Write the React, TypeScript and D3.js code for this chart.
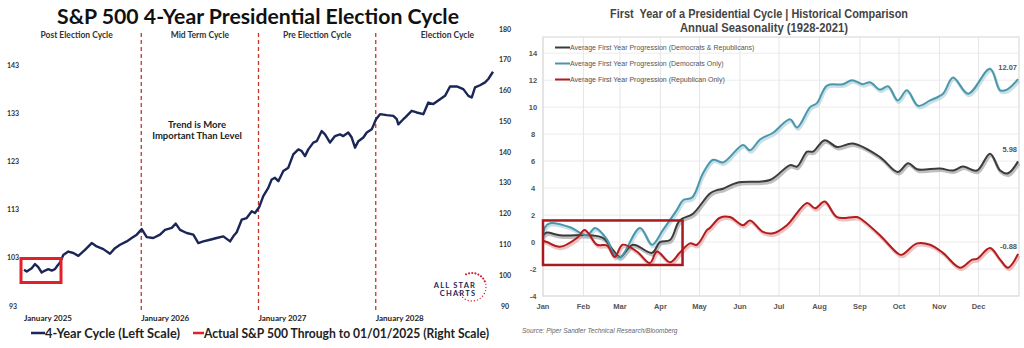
import React from "react";
import * as d3 from "d3";

// ---------- LEFT CHART DATA ----------
const cycleData: [number, number][] = [
  [0, 100.5], [0.28, 100.15], [0.79, 100.85], [1.13, 101.7], [1.46, 101.05], [1.81, 99.95],
  [2.15, 100.35], [2.49, 100.65], [2.84, 100.35], [3.17, 100.65], [3.41, 101.35], [3.68, 102.0],
  [4.02, 103.6], [4.53, 104.3], [5.05, 104.0], [5.56, 103.4], [6.24, 104.65], [6.93, 106.05],
  [7.44, 105.35], [8.12, 104.8], [8.8, 103.85], [9.31, 105.0], [9.83, 105.7], [10.51, 106.4],
  [11.02, 107.1], [11.54, 107.8], [12.05, 108.95], [12.56, 107.3], [13.23, 107.1], [13.92, 107.8],
  [14.43, 108.8], [15.12, 109.2], [15.53, 110.1], [15.97, 108.8], [16.65, 108.15], [17.33, 107.8],
  [17.84, 106.05], [18.35, 106.4], [19.04, 106.75], [19.72, 107.1], [20.4, 107.45], [21.09, 106.4],
  [21.42, 107.45], [21.77, 108.3], [22.28, 110.9], [22.79, 111.25], [23.31, 112.65], [23.64, 112.3],
  [24.08, 113.55], [24.49, 115.8], [25.0, 117.5], [25.35, 119.25], [25.69, 119.6], [26.03, 118.9],
  [26.54, 121.0], [27.05, 121.7], [27.56, 124.45], [28.08, 125.5], [28.42, 125.15], [28.76, 124.1],
  [29.1, 125.5], [29.61, 126.9], [29.96, 127.2], [30.47, 129.3], [30.81, 128.6], [31.32, 126.9],
  [31.83, 128.25], [32.34, 128.6], [32.68, 128.25], [33.19, 129.0], [33.54, 127.95], [33.88, 125.85],
  [34.22, 127.2], [34.73, 127.95], [35.08, 129.0], [35.59, 129.65], [36.03, 131.75], [36.44, 132.8],
  [37.12, 132.6], [37.8, 132.45], [38.15, 131.75], [38.31, 130.7], [38.82, 131.75], [39.0, 132.1],
  [39.68, 133.5], [40.19, 133.15], [40.87, 132.8], [41.38, 135.2], [41.89, 134.9], [42.58, 135.9],
  [43.09, 136.6], [43.6, 138.55], [44.29, 138.55], [44.96, 138.0], [45.48, 136.6], [45.82, 136.25],
  [46.16, 138.35], [46.67, 138.8], [47.19, 139.4], [47.52, 140.1], [48.0, 141.6],
];
const phaseLabels = ["Post Election Cycle", "Mid Term Cycle", "Pre Election Cycle", "Election Cycle"];
const phaseDividers = [12, 24, 36];
const yearLabels = ["January 2025", "January 2026", "January 2027", "January 2028"];
const yearLabelMonths = [0, 12, 24, 36];
const leftTicks = [93, 103, 113, 123, 133, 143];
const rightTicks = [90, 100, 110, 120, 130, 140, 150, 160, 170, 180];

// ---------- RIGHT CHART DATA ----------
const bothParties: [number, number][] = [
  [0, 0.5], [3, 0.7], [13, 0.5], [36, 0.5], [46, 0.3], [53.7, -0.6], [59, -1.1], [69, -0.2],
  [83.6, -0.8], [89.7, 0], [97.4, 0.15], [104.8, 1.6], [115, 2.1], [128, 3.6], [133.4, 3.85],
  [138, 3.95], [148.8, 4.4], [174, 4.6], [189.4, 5.7], [194.8, 5.6], [202.5, 6.7], [207, 6.7],
  [216, 7.55], [225.5, 7.05], [237.7, 7.3], [258.4, 6.3], [272, 5.2], [280, 5.85], [286.8, 5.4],
  [304.4, 5.45], [314.4, 5.3], [322, 5.6], [332.8, 5.3], [342.8, 6.55], [350.5, 5.3], [356.6, 5.1],
  [364.3, 5.98],
];
const democrats: [number, number][] = [
  [0, 0.2], [1.5, 1.1], [5.4, 1.4], [20.7, 1.1], [33.7, 0.5], [39.9, 1.05], [49, 0.2], [53.7, -0.8],
  [59, -1.15], [74.4, 1.05], [83.6, -0.2], [92, 0.9], [102.8, 2.4], [107.4, 3.1], [114.3, 3.3],
  [122.7, 5.1], [130.4, 6.1], [138, 5.9], [153.4, 7.2], [158.7, 6.8], [166.4, 7.6], [176.4, 8.1],
  [189.4, 9.1], [194.8, 8.5], [204.8, 10], [210, 10.3], [217.8, 11.6], [230, 11.7], [237, 12.0],
  [245, 11.7], [250.8, 11.85], [258.4, 11.3], [264.6, 11.55], [272, 10.5], [279, 11.25],
  [287.6, 10.1], [296.8, 10.5], [306.7, 11], [314.4, 12.2], [326, 11], [342.8, 12.85],
  [350.5, 11.25], [355.8, 11.3], [364.3, 12.07],
];
const republicans: [number, number][] = [
  [0, 0.1], [3, 0], [13, -0.35], [26, 0.3], [32, 0.9], [41.4, -0.2], [49, -0.25], [55, -1.1],
  [61, -0.2], [72, -0.7], [82, -1.55], [87.4, -0.7], [97.4, -1.5], [104.8, -0.8], [112.7, -0.1],
  [118, -0.2], [125.8, 0.9], [128, 1.05], [135.7, 1.8], [143.4, 1.85], [153.4, 1.25], [158.7, 1.6],
  [168.7, 0.75], [176.4, 0.65], [187, 1.25], [202.5, 2.9], [208.6, 2.5], [216, 3.0], [225.5, 1.85],
  [240.8, 1.85], [245.4, 1.6], [258.4, 0.5], [271.5, -0.8], [275, -0.95], [286.8, -0.1],
  [296.8, -0.2], [306.7, -0.8], [319.8, -1.9], [329, -1.3], [332.8, -1.25], [342.8, -0.45],
  [350.5, -1.3], [356.6, -1.9], [364.3, -0.88],
];
const monthNames = ["Jan", "Feb", "Mar", "Apr", "May", "Jun", "Jul", "Aug", "Sep", "Oct", "Nov", "Dec"];
const monthStartDays = [0, 31, 59, 90, 120, 151, 181, 212, 243, 273, 304, 334];
const seasonTicks = [-4, -2, 0, 2, 4, 6, 8, 10, 12, 14];
const legendNames = [
  "Average First Year Progression (Democrats & Republicans)",
  "Average First Year Progression (Democrats Only)",
  "Average First Year Progression (Republican Only)",
];
const endLabels = ["5.98", "12.07", "-0.88"];

export default function App() {
  // left scales
  const xL = d3.scaleLinear().domain([0, 48]).range([24, 493]);
  const yL = d3.scaleLinear().domain([93, 143]).range([306, 65]);
  const yRt = d3.scaleLinear().domain([90, 180]).range([306, 29]);
  const lineL = d3.line<[number, number]>().x((d) => xL(d[0])).y((d) => yL(d[1]));

  // right scales
  const xR = d3.scaleLinear().domain([0, 365]).range([543, 1019]);
  const yR = d3.scaleLinear().domain([-4, 15.2]).range([296, 37]);
  const lineR = d3
    .line<[number, number]>()
    .x((d) => xR(d[0]))
    .y((d) => yR(d[1]))
    .curve(d3.curveCatmullRom.alpha(0.5));

  const series = [
    { data: bothParties, color: "#3b3b3b", shadow: "#8a8a8a" },
    { data: democrats, color: "#4a97ad", shadow: "#9cc6d2" },
    { data: republicans, color: "#b21c1c", shadow: "#dc9090" },
  ];

  const phaseBounds = [0, 12, 24, 36, 48];

  // logo dots
  const logoCx = 472;
  const logoCy = 287;
  const logoR = 14;
  const dotAngles = d3.range(-115, 160, 13);

  return (
    <div style={{ position: "absolute", left: 0, top: 0, width: 1024, height: 348, background: "#fff" }}>
      <svg width={1024} height={348} style={{ display: "block" }}>
        <rect x={0} y={0} width={1024} height={348} fill="#fff" />
        {/* ================= LEFT CHART ================= */}
        <text
          x={258}
          y={24}
          textAnchor="middle"
          fontFamily="Lato, 'Open Sans', sans-serif"
          fontWeight={700}
          fontSize={21}
          fill="#111"
          textLength={402}
          lengthAdjust="spacingAndGlyphs"
        >
          S&amp;P 500 4-Year Presidential Election Cycle
        </text>
        {phaseLabels.map((p, i) => (
          <text
            key={p}
            x={(xL(phaseBounds[i]) + xL(phaseBounds[i + 1])) / 2 - (i === 0 ? 6 : i === 3 ? -13 : 0)}
            y={38}
            textAnchor="middle"
            fontFamily="Lato, sans-serif"
            fontWeight={700}
            fontSize={8.5}
            fill="#333"
          >
            {p}
          </text>
        ))}
        {phaseDividers.map((m) => (
          <line
            key={m}
            x1={xL(m)}
            x2={xL(m)}
            y1={33}
            y2={312}
            stroke="#c0392b"
            strokeWidth={1.3}
            strokeDasharray="4 3"
          />
        ))}
        <text x={197} y={128} textAnchor="middle" fontFamily="Lato, sans-serif" fontWeight={700} fontSize={9.5} fill="#222">
          Trend is More
        </text>
        <text x={197} y={139} textAnchor="middle" fontFamily="Lato, sans-serif" fontWeight={700} fontSize={9.5} fill="#222">
          Important Than Level
        </text>
        {leftTicks.map((t) => (
          <text key={t} x={13} y={yL(t) + 2.5} textAnchor="middle" fontFamily="Lato, sans-serif" fontWeight={700} fontSize={7} fill="#333">
            {t}
          </text>
        ))}
        {rightTicks.map((t) => (
          <text key={t} x={505} y={yRt(t) + 2.5} textAnchor="middle" fontFamily="Lato, sans-serif" fontWeight={700} fontSize={7} fill="#333">
            {t}
          </text>
        ))}
        {yearLabels.map((l, i) => (
          <text key={l} x={xL(yearLabelMonths[i])} y={321} fontFamily="Lato, sans-serif" fontWeight={700} fontSize={8} fill="#222">
            {l}
          </text>
        ))}
        <path d={lineL(cycleData) || ""} fill="none" stroke="#1a2756" strokeWidth={2.4} strokeLinejoin="round" />
        <rect x={21} y={258.5} width={40} height={24} fill="none" stroke="#e3202a" strokeWidth={3} />
        {/* legend */}
        <line x1={31} x2={45} y1={333} y2={333} stroke="#1a2756" strokeWidth={2.5} />
        <text x={45} y={338} fontFamily="Lato, sans-serif" fontWeight={700} fontSize={13.5} fill="#222" textLength={135} lengthAdjust="spacingAndGlyphs">
          4-Year Cycle (Left Scale)
        </text>
        <line x1={193} x2={204} y1={333} y2={333} stroke="#e3202a" strokeWidth={2.5} />
        <text x={204} y={338} fontFamily="Lato, sans-serif" fontWeight={700} fontSize={13.5} fill="#222" textLength={285} lengthAdjust="spacingAndGlyphs">
          Actual S&amp;P 500 Through to 01/01/2025 (Right Scale)
        </text>
        {/* logo */}
        {dotAngles.map((a, i) => {
          const rad = (a * Math.PI) / 180;
          return (
            <circle
              key={i}
              cx={logoCx + logoR * Math.cos(rad)}
              cy={logoCy + logoR * Math.sin(rad)}
              r={i < 8 ? 1.1 : 0.7}
              fill="#c8283a"
            />
          );
        })}
        <text x={455} y={288} textAnchor="middle" fontFamily="Lato, sans-serif" fontWeight={700} fontSize={7.5} fill="#1a2756" letterSpacing={1.2}>
          ALL STAR
        </text>
        <text x={458} y={296} textAnchor="middle" fontFamily="Lato, sans-serif" fontWeight={700} fontSize={7.5} fill="#1a2756" letterSpacing={1.2}>
          CHARTS
        </text>

        {/* ================= RIGHT CHART ================= */}
        <text x={759} y={18} textAnchor="middle" fontFamily="'Liberation Sans', Arial, sans-serif" fontWeight={700} fontSize={12.5} fill="#444" textLength={298} lengthAdjust="spacingAndGlyphs">
          {"First\u00a0 Year of a Presidential Cycle | Historical Comparison"}
        </text>
        <text x={764} y={32} textAnchor="middle" fontFamily="'Liberation Sans', Arial, sans-serif" fontWeight={700} fontSize={12.5} fill="#444" textLength={168} lengthAdjust="spacingAndGlyphs">
          Annual Seasonality (1928-2021)
        </text>
        {seasonTicks.map((t) => (
          <g key={t}>
            <line x1={543} x2={1019} y1={yR(t)} y2={yR(t)} stroke="#ececec" strokeWidth={1} />
            <text x={533} y={yR(t) + 3} textAnchor="middle" fontFamily="'Liberation Sans', Arial, sans-serif" fontWeight={700} fontSize={7.5} fill="#555">
              {t}
            </text>
          </g>
        ))}
        {monthStartDays.map((d, i) => (
          <g key={d}>
            <line x1={xR(d)} x2={xR(d)} y1={37} y2={296} stroke="#e6e6e6" strokeWidth={1} />
            <text x={xR(d)} y={309} textAnchor="middle" fontFamily="'Liberation Sans', Arial, sans-serif" fontWeight={700} fontSize={7.5} fill="#555">
              {monthNames[i]}
            </text>
          </g>
        ))}
        <rect x={543} y={37} width={476} height={259} fill="none" stroke="#dcdcdc" strokeWidth={1.2} />
        {series.map((s, i) => (
          <path
            key={"sh" + i}
            d={lineR(s.data) || ""}
            fill="none"
            stroke={s.shadow}
            strokeWidth={3}
            opacity={0.55}
            transform="translate(1,2)"
          />
        ))}
        {series.map((s, i) => (
          <path key={"ln" + i} d={lineR(s.data) || ""} fill="none" stroke={s.color} strokeWidth={2} />
        ))}
        {/* legend */}
        {series.map((s, i) => (
          <g key={"lg" + i}>
            <line x1={555} x2={570} y1={47.5 + i * 16} y2={47.5 + i * 16} stroke={s.color} strokeWidth={2} />
            <text x={570} y={50 + i * 16} fontFamily="'Liberation Sans', Arial, sans-serif" fontSize={7} fill="#555">
              {legendNames[i]}
            </text>
          </g>
        ))}
        {series.map((s, i) => (
          <text
            key={"el" + i}
            x={1017}
            y={yR(s.data[s.data.length - 1][1]) - (i === 2 ? 5 : 9)}
            textAnchor="end"
            fontFamily="'Liberation Sans', Arial, sans-serif"
            fontWeight={700}
            fontSize={7.5}
            fill="#555"
          >
            {endLabels[i]}
          </text>
        ))}
        <rect x={xR(0)} y={yR(1.6)} width={xR(107) - xR(0)} height={yR(-1.7) - yR(1.6)} fill="none" stroke="#a8181c" strokeWidth={2.5} />
        <text x={522} y={333} fontFamily="'Liberation Sans', Arial, sans-serif" fontStyle="italic" fontSize={6.5} fill="#666">
          Source: Piper Sandler Technical Research/Bloomberg
        </text>
      </svg>
    </div>
  );
}
